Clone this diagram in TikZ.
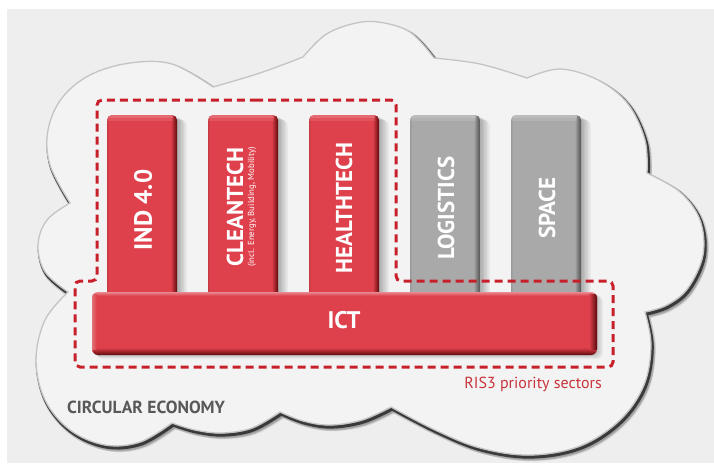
\documentclass[tikz,border=0pt]{standalone}
\usepackage{fontspec}
\setmainfont{PT Sans}

% palette
\definecolor{paper}{HTML}{EEEEEE}
\definecolor{cloudfill}{HTML}{F3F3F3}
\definecolor{cloudrim}{HTML}{C4C4C4}
\definecolor{cloudshade}{HTML}{3A3A3A}
\definecolor{redmain}{HTML}{DF414C}
\definecolor{redleft}{HTML}{C63A43}
\definecolor{redhl}{HTML}{E98A90}
\definecolor{reddk}{HTML}{9A2027}
\definecolor{reddkk}{HTML}{5A0A0E}
\definecolor{greymain}{HTML}{A9A9A9}
\definecolor{greyleft}{HTML}{9A9A9A}
\definecolor{greyhl}{HTML}{CDCDCD}
\definecolor{greydk}{HTML}{767676}
\definecolor{greydkk}{HTML}{545454}
\definecolor{framered}{HTML}{C8202A}
\definecolor{labelred}{HTML}{C9333B}
\definecolor{labelgrey}{HTML}{58585A}

% column and bar shadings (25bp..75bp spans the shaded path)
\pgfdeclarehorizontalshading{redcolumn}{100bp}{color(0bp)=(redleft); color(25bp)=(redleft); color(26.5bp)=(redmain); color(70.5bp)=(redmain); color(73bp)=(reddk); color(75bp)=(reddkk); color(100bp)=(reddkk)}
\pgfdeclarehorizontalshading{greycolumn}{100bp}{color(0bp)=(greyleft); color(25bp)=(greyleft); color(26.5bp)=(greymain); color(70.5bp)=(greymain); color(73bp)=(greydk); color(75bp)=(greydkk); color(100bp)=(greydkk)}
\pgfdeclareverticalshading{redbar}{100bp}{color(0bp)=(reddkk); color(25bp)=(reddkk); color(27.5bp)=(reddk); color(31bp)=(redmain); color(72bp)=(redmain); color(75bp)=(redhl); color(100bp)=(redhl)}

% outline of the cloud: one smooth run per bulge, meeting in sharp notches
\newcommand\cloudoutline{%
  plot[smooth,tension=0.6] coordinates {(70,203) (50,165) (48,130) (62,98) (90,75) (130,63) (172,64) (213,87)}
  -- plot[smooth,tension=0.6] coordinates {(213,87) (260,73) (303,57)}
  -- plot[smooth,tension=0.6] coordinates {(303,57) (325,35) (352,24) (378,22) (410,32) (434,58)}
  -- plot[smooth,tension=0.6] coordinates {(434,58) (480,64) (527,78)}
  -- plot[smooth,tension=0.6] coordinates {(527,78) (560,69) (598,80) (628,104) (645,140) (647,173)}
  -- plot[smooth,tension=0.6] coordinates {(647,173) (680,192) (700,220) (703,255) (688,288) (667,305) (645,312)}
  -- plot[smooth,tension=0.6] coordinates {(645,312) (651,345) (644,385) (620,420) (580,446) (530,455) (480,448) (435,430) (391,407)}
  -- plot[smooth,tension=0.6] coordinates {(391,407) (362,420) (330,425) (303,421) (280,412)}
  -- plot[smooth,tension=0.6] coordinates {(280,412) (252,428) (222,433) (195,430) (172,423)}
  -- plot[smooth,tension=0.6] coordinates {(172,423) (140,442) (105,445) (70,430) (45,400) (36,360) (45,320) (68,292)}
  -- plot[smooth,tension=0.6] coordinates {(68,292) (45,272) (38,245) (47,220) (70,203)}
  -- cycle}

% one bevelled column: #1 left edge, #2 shading, #3 highlight colour
\newcommand\columnshape[3]{%
  \foreach \k in {1,...,7}
    \fill[black,opacity=0.045,rounded corners=5pt] ({#1+1.4*\k},{115+0.7*\k}) rectangle ({#1+70+1.4*\k},300);
  \shade[shading=#2,rounded corners=5pt] (#1,115) rectangle (#1+70,300);
  \begin{scope}
    \clip[rounded corners=5pt] (#1,115) rectangle (#1+70,300);
    \fill[#3,opacity=0.55] (#1,115) rectangle (#1+66,117.5);
    \fill[#3,opacity=0.25] (#1,117.5) rectangle (#1+66,120.5);
  \end{scope}
}

\tikzset{
  columnlabel/.style={text=white,font=\bfseries\fontsize{23}{23}\selectfont,rotate=90,inner sep=0pt},
  sectorframe/.style={draw=framered,line width=3pt,dash pattern=on 8pt off 5pt,rounded corners=5pt},
}

\begin{document}
\begin{tikzpicture}[x=1pt,y=-1pt]
  \useasboundingbox (0,0) rectangle (714,463);
  \fill[white] (0,0) rectangle (714,463);
  \fill[paper] (7,9) rectangle (714,463);

  % cloud with soft drop shadow and light rim
  \foreach \k in {1,...,8}
    \fill[black,opacity=0.06,shift={(0.55*\k,0.8*\k)}] \cloudoutline;
  \draw[black,opacity=0.16,line width=5pt,shift={(2.2,3.2)}] \cloudoutline;
  \draw[cloudshade,line width=3pt,shift={(1.3,2.1)}] \cloudoutline;
  \fill[cloudfill] \cloudoutline;
  \draw[cloudrim,line width=1.3pt] \cloudoutline;

  % sector columns
  \columnshape{107}{redcolumn}{redhl}
  \columnshape{208}{redcolumn}{redhl}
  \columnshape{309}{redcolumn}{redhl}
  \columnshape{410}{greycolumn}{greyhl}
  \columnshape{511}{greycolumn}{greyhl}

  % ICT base bar
  \foreach \k in {1,...,5}
    \fill[black,opacity=0.04,rounded corners=6pt] ({92+\k},{292+0.8*\k}) rectangle ({597+1.2*\k},{355+0.8*\k});
  \shade[shading=redbar,rounded corners=6pt] (92,292) rectangle (597,355);
  \begin{scope}
    \clip[rounded corners=6pt] (92,292) rectangle (597,355);
    \shade[left color=redmain,right color=reddkk] (589,294) rectangle (597,349);
    \shade[left color=redhl!70!redleft,right color=redmain] (92,294) rectangle (96.5,349);
  \end{scope}

  % RIS3 frame
  \draw[sectorframe] (250,100) -- (396,100) -- (396,281) -- (613,281) -- (613,367)
    -- (75,367) -- (75,281) -- (97,281) -- (97,100) -- cycle;

  % labels
  \node[columnlabel,font=\bfseries\fontsize{25}{25}\selectfont] (ind) at (143,210) {IND 4.0};
  \node[columnlabel,anchor=base] (clean) at (243,207) {CLEANTECH};
  \node[text=white,rotate=90,anchor=base,inner sep=0pt,font=\fontsize{8.8}{9}\selectfont] (cleansub) at (254,207) {(incl. Energy, Building, Mobility)};
  \node[columnlabel] (health) at (344,208) {HEALTHTECH};
  \node[columnlabel] (logi) at (446,208) {LOGISTICS};
  \node[columnlabel] (space) at (547,208) {SPACE};
  \node[text=white,font=\bfseries\fontsize{24}{24}\selectfont,inner sep=0pt] (ict) at (344,320) {ICT};
  \node[anchor=base east,text=labelred,inner sep=0pt,font=\fontsize{16}{16}\selectfont] (ris) at (602,388) {RIS3 priority sectors};
  \node[anchor=base west,text=labelgrey,inner sep=0pt,font=\bfseries\fontsize{17.5}{18}\selectfont] (circ) at (67,413) {CIRCULAR ECONOMY};
\end{tikzpicture}
\end{document}
